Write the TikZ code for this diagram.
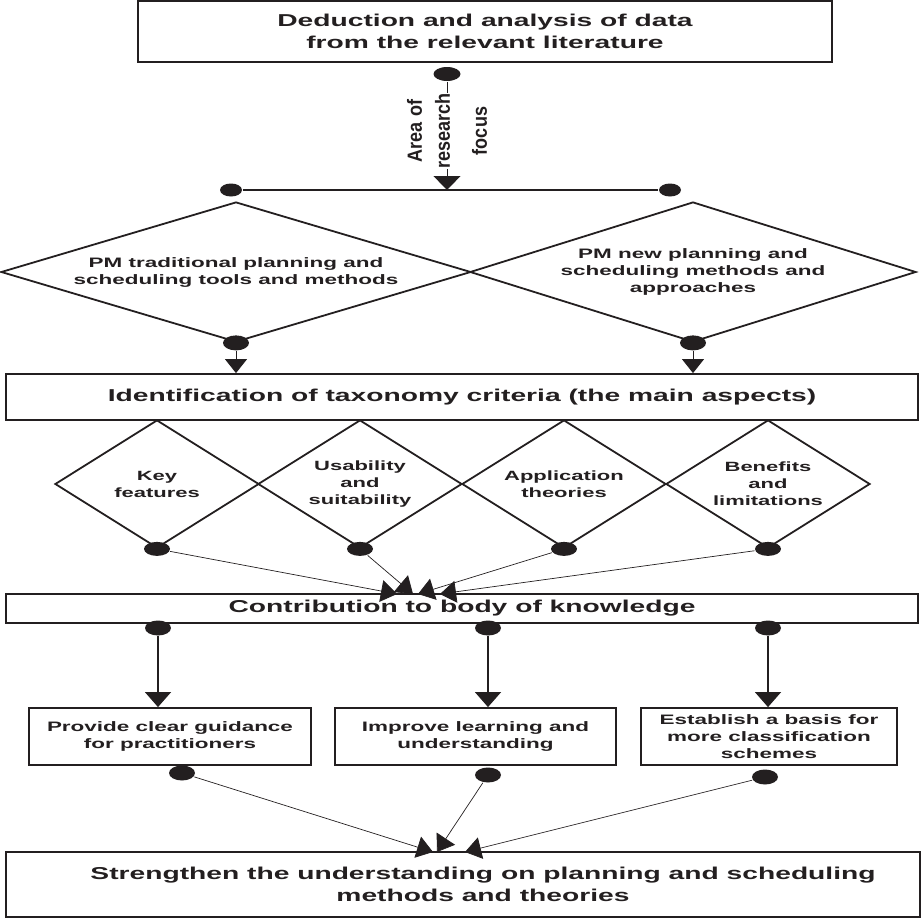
\documentclass[tikz,border=0pt]{standalone}
\usepackage{fontspec}
\usepackage{tikz}
\usetikzlibrary{shapes.geometric, arrows.meta, positioning}
\newfontfamily\diagfont{Liberation Sans}[FakeStretch=1.64]
\newfontfamily\narrowfont{Liberation Sans}[FakeStretch=0.88]
\definecolor{ink}{RGB}{35,31,32}

\begin{document}
\begin{tikzpicture}[
		x=1pt, y=-1pt,
		every node/.style={draw=ink, line width=1.8pt, inner sep=0pt, align=center, text=ink},
		box/.style={rectangle, font=\diagfont\bfseries\fontsize{17.2}{22}\selectfont},
		smallbox/.style={rectangle, font=\diagfont\bfseries\fontsize{13.7}{17}\selectfont},
		choice/.style={diamond, minimum height=140pt, font=\diagfont\bfseries\fontsize{13.7}{17}\selectfont},
		criterion/.style={diamond, shape aspect=1.6, minimum width=204pt, minimum height=128pt, font=\diagfont\bfseries\fontsize{13.4}{17}\selectfont},
		dot/.style={ellipse, fill=ink, draw=none, minimum width=26pt, minimum height=15pt},
		enddot/.style={dot, minimum width=22pt, minimum height=13pt},
		flow/.style={draw=ink, line width=1pt, -{Triangle[width=24pt, length=14pt]}},
		thinflow/.style={draw=ink, line width=0.7pt, -{Triangle[width=22pt, length=16pt]}}
	]
  \useasboundingbox (0,0) rectangle (922,918);

  % literature and research focus
  \node[box, minimum width=694pt, minimum height=61pt] (lit) at (485,31.5) {Deduction and analysis of data\\from the relevant literature};
  \node[dot, minimum width=27pt, minimum height=14pt] (lit dot) at (447,74) {};
  \node[enddot] (split left) at (231,190) {};
  \node[enddot] (split right) at (670,190) {};
  \coordinate (split) at (447,190);
  \draw[ink, line width=1.8pt] (split left) -- (split right);
  \draw[flow, -{Triangle[width=27pt, length=14pt]}] (lit dot) -- (split);
  \node[draw=none, fill=white, rotate=90, font=\narrowfont\bfseries\fontsize{20.5}{28}\selectfont] (focus) at (447,131) {Area of\\research\\[9pt]focus};

  % planning and scheduling methods
  \node[choice, shape aspect=3.36, minimum width=470pt] (trad) at (236,272) {PM traditional planning and\\scheduling tools and methods};
  \node[choice, shape aspect=3.19, minimum width=446pt] (new) at (693,272) {PM new planning and\\scheduling methods and\\approaches};
  \node[dot] (trad dot) at (trad.south) {};
  \node[dot] (new dot) at (new.south) {};

  \node[box, minimum width=912pt, minimum height=46pt] (crit) at (462,397) {Identification of taxonomy criteria (the main aspects)};
  \draw[flow, -{Triangle[width=22pt, length=14pt]}] (trad dot) -- (trad dot |- crit.north);
  \draw[flow, -{Triangle[width=22pt, length=14pt]}] (new dot) -- (new dot |- crit.north);

  % taxonomy criteria
  \node[criterion] (key) at (157,484) {Key\\features};
  \node[criterion] (usab) at (360,484) {Usability\\and\\suitability};
  \node[criterion] (appl) at (564,484) {Application\\theories};
  \node[criterion] (bene) at (768,484) {Benefits\\and\\limitations};
  \node[dot, minimum height=14pt] (key dot) at (key.south) {};
  \node[dot, minimum height=14pt] (usab dot) at (usab.south) {};
  \node[dot, minimum height=14pt] (appl dot) at (appl.south) {};
  \node[dot, minimum height=14pt] (bene dot) at (bene.south) {};

  \node[box, minimum width=912pt, minimum height=29pt] (contrib) at (462,608.5) {Contribution to body of knowledge};
  \coordinate (in key) at (397,594);
  \coordinate (in usab) at (413,594);
  \coordinate (in appl) at (418,594);
  \coordinate (in bene) at (440,594);
  \draw[thinflow] (key dot) -- (in key);
  \draw[thinflow] (usab dot) -- (in usab);
  \draw[thinflow] (appl dot) -- (in appl);
  \draw[thinflow] (bene dot) -- (in bene);

  % outcomes
  \node[dot] (c guide) at (158,628) {};
  \node[dot] (c learn) at (488,628) {};
  \node[dot] (c basis) at (768,628) {};
  \node[smallbox, minimum width=282pt, minimum height=57pt] (guide) at (170,736.5) {Provide clear guidance\\for practitioners};
  \node[smallbox, minimum width=281pt, minimum height=57pt] (learn) at (475.5,736.5) {Improve learning and\\understanding};
  \node[smallbox, minimum width=256pt, minimum height=57pt] (basis) at (769,736.5) {Establish a basis for\\more classification\\schemes};
  \draw[flow, line width=1.2pt, -{Triangle[width=26pt, length=15pt]}] (c guide) -- (c guide |- guide.north);
  \draw[flow, line width=1.2pt, -{Triangle[width=26pt, length=15pt]}] (c learn) -- (c learn |- learn.north);
  \draw[flow, line width=1.2pt, -{Triangle[width=26pt, length=15pt]}] (c basis) -- (c basis |- basis.north);

  \node[dot] (guide dot) at (182,773) {};
  \node[dot] (learn dot) at (488,775) {};
  \node[dot] (basis dot) at (765,777) {};
  \node[box, minimum width=914pt, minimum height=65pt] (strength) at (463,884.5) {\hspace*{40pt}Strengthen the understanding on planning and scheduling\\\hspace*{40pt}methods and theories};
  \coordinate (in guide) at (433,852);
  \coordinate (in learn) at (437,852);
  \coordinate (in basis) at (465,852);
  \draw[thinflow] (guide dot) -- (in guide);
  \draw[thinflow] (learn dot) -- (in learn);
  \draw[thinflow] (basis dot) -- (in basis);
\end{tikzpicture}
\end{document}
